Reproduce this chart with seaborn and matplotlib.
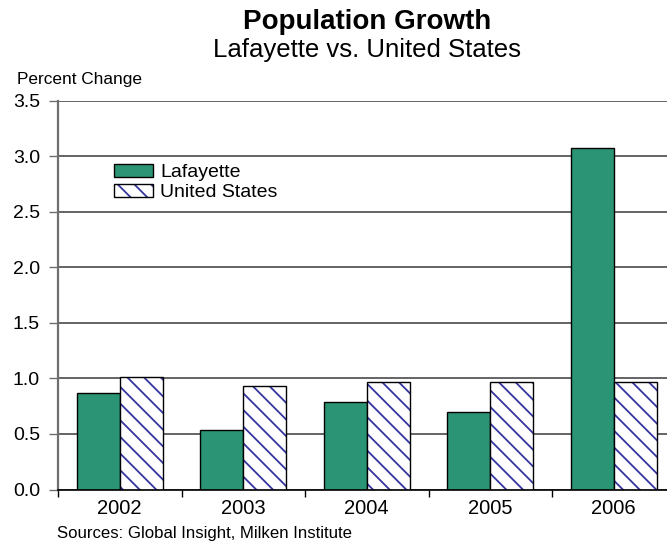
import matplotlib
matplotlib.use("Agg")
import matplotlib.pyplot as plt
import seaborn as sns
import pandas as pd
from matplotlib.patches import Patch, Rectangle
from matplotlib.legend_handler import HandlerTuple

years = ["2002", "2003", "2004", "2005", "2006"]
lafayette = [0.87, 0.54, 0.79, 0.70, 3.07]
united_states = [1.01, 0.93, 0.97, 0.97, 0.97]
series = ["Lafayette", "United States"]
y_ticks = [0.0, 0.5, 1.0, 1.5, 2.0, 2.5, 3.0, 3.5]

df = pd.DataFrame({
    "year": years * 2,
    "value": lafayette + united_states,
    "series": [series[0]] * len(years) + [series[1]] * len(years),
})

sns.set_theme(style="white")
plt.rcParams["font.family"] = ["Liberation Sans", "DejaVu Sans"]
plt.rcParams["text.color"] = "black"
plt.rcParams["xtick.color"] = "black"
plt.rcParams["ytick.color"] = "black"
plt.rcParams["hatch.linewidth"] = 1.3

W, H = 667, 542
fig = plt.figure(figsize=(W / 100, H / 100), dpi=100)
cat_w = 123.5
plot_left, plot_w = 58, 5 * cat_w
ax = fig.add_axes([plot_left / W, 1 - 489.5 / H, plot_w / W, 388.8 / H])

green = "#2B9474"
hatch_blue = "#3535A0"
sns.barplot(data=df, x="year", y="value", hue="series", palette=[green, "white"],
            width=0.70, gap=0, edgecolor="black", linewidth=1.0, ax=ax,
            legend=False, saturation=1)

# hatched series: blue hatch lines, black outline drawn on top
for bar in ax.containers[1]:
    bar.set_hatch("\\\\")
    bar.set_edgecolor(hatch_blue)
    bar.set_linewidth(0)
    ax.add_patch(Rectangle(bar.get_xy(), bar.get_width(), bar.get_height(),
                           fill=False, edgecolor="black", linewidth=1.0, zorder=bar.get_zorder() + 0.1))

ax.set_ylim(0, 3.5)
ax.set_yticks(y_ticks)
ax.set_yticklabels([f"{v:.1f}" for v in y_ticks], fontsize=14)
ax.set_xticks(range(len(years)))
ax.set_xticklabels(years, fontsize=14.5)
ax.set_xlim(-0.5, len(years) - 0.5)
ax.set_xlabel("")
ax.set_ylabel("")

ax.yaxis.grid(True, color="#3a3a3a", linewidth=1.1)
ax.set_axisbelow(True)
for s in ["top", "right"]:
    ax.spines[s].set_visible(False)
ax.spines["left"].set_color("#6e6e6e")
ax.spines["left"].set_linewidth(1.6)
ax.spines["bottom"].set_color("black")
ax.spines["bottom"].set_linewidth(1.2)

# boundary ticks between categories on the x axis
ax.set_xticks([i + 0.5 for i in range(-1, len(years))], minor=True)
ax.tick_params(axis="x", which="minor", length=5, width=1, color="black", direction="out", bottom=True)
ax.tick_params(axis="x", which="major", length=0, pad=6.5)
ax.tick_params(axis="y", which="major", length=6.5, width=1, color="#6e6e6e", left=True, pad=6.5)

leg_green = Patch(facecolor=green, edgecolor="black", linewidth=1.0)
leg_hatch = Patch(facecolor="white", edgecolor=hatch_blue, hatch="\\\\", linewidth=0)
leg_frame = Patch(facecolor="none", edgecolor="black", linewidth=1.0)
fig.legend(handles=[leg_green, (leg_hatch, leg_frame)], labels=series,
           handler_map={tuple: HandlerTuple(ndivide=1, pad=0)},
           loc="upper left", bbox_to_anchor=(114 / W, 1 - 164 / H), frameon=False,
           fontsize=14, handlelength=2.0, handleheight=0.67, handletextpad=0.36,
           labelspacing=0.12, borderaxespad=0, borderpad=0)

# titles are centred over the plot area
title_x = (plot_left + plot_w / 2) / W
fig.text(title_x, 1 - 29 / H, "Population Growth", ha="center", va="baseline",
         fontsize=20, fontweight="bold")
fig.text(title_x, 1 - 57 / H, "Lafayette vs. United States", ha="center", va="baseline",
         fontsize=18.5)
fig.text(17 / W, 1 - 84 / H, "Percent Change", ha="left", va="baseline", fontsize=12.4)
fig.text(57 / W, 1 - 538 / H, "Sources: Global Insight, Milken Institute",
         ha="left", va="baseline", fontsize=12.1)

fig.savefig("out.png", dpi=100)
